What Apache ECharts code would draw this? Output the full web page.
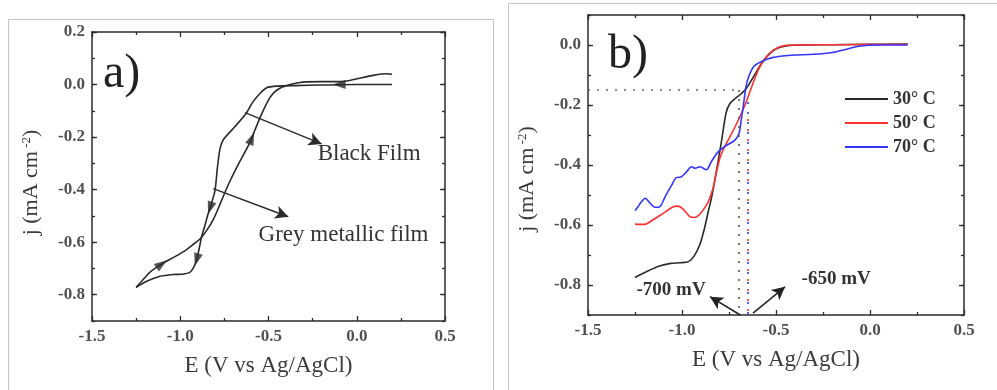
<!DOCTYPE html>
<html>
<head>
<meta charset="utf-8">
<script src="https://cdn.jsdelivr.net/npm/echarts@6/dist/echarts.min.js"></script>
<style>
  html, body { margin: 0; padding: 0; background: #fff; }
  #chart { width: 997px; height: 390px; }
</style>
</head>
<body>
<div id="chart"></div>
<script>
// ---- Panel a: cyclic voltammogram (E in V, j in mA cm^-2) ----
const cvForward = [
  [0.2, 0.0], [0.0, 0.0], [-0.2, -0.002], [-0.35, -0.004], [-0.45, -0.006],
  [-0.51, -0.012], [-0.55, -0.035], [-0.59, -0.068], [-0.624, -0.107], [-0.69, -0.16],
  [-0.756, -0.21], [-0.775, -0.245], [-0.79, -0.32], [-0.803, -0.403], [-0.822, -0.45],
  [-0.841, -0.49], [-0.862, -0.54], [-0.879, -0.58], [-0.893, -0.625], [-0.907, -0.667],
  [-0.925, -0.697], [-0.945, -0.715], [-0.99, -0.722], [-1.04, -0.723], [-1.115, -0.73],
  [-1.19, -0.749], [-1.25, -0.772]
];
const cvReverse = [
  [-1.25, -0.772], [-1.21, -0.742], [-1.171, -0.714], [-1.096, -0.679], [-1.03, -0.655],
  [-0.964, -0.628], [-0.92, -0.605], [-0.888, -0.588], [-0.85, -0.555], [-0.813, -0.514],
  [-0.785, -0.472], [-0.756, -0.425], [-0.72, -0.37], [-0.68, -0.315], [-0.64, -0.265],
  [-0.605, -0.22], [-0.575, -0.17], [-0.548, -0.126], [-0.52, -0.085], [-0.492, -0.05],
  [-0.465, -0.028], [-0.435, -0.014], [-0.40, -0.005], [-0.378, 0.0], [-0.33, 0.007],
  [-0.284, 0.01], [-0.2, 0.011], [-0.095, 0.011], [-0.03, 0.017], [0.03, 0.026],
  [0.094, 0.035], [0.14, 0.04], [0.17, 0.041], [0.2, 0.039]
];
// scan-direction markers on the loop, and their headings (degrees, counter-clockwise from up)
const sweepArrows = [[-0.10, 0.0], [-0.831, -0.47], [-0.907, -0.667], [-1.105, -0.683], [-0.595, -0.205]];
const sweepHeadings = [90, 162, 164, -55, -22];
// film labels: pointer start, pointer tip, text anchor
const filmNames = ['Black Film', 'Grey metallic film'];
const filmPointerFrom = [[-0.633, -0.107], [-0.813, -0.396]];
const filmPointerTo = [[-0.199, -0.226], [-0.388, -0.503]];
const filmTextAt = [[0.07, -0.264], [-0.075, -0.574]];

// ---- Panel b: linear sweeps at three bath temperatures ----
const tempNames = ['30\u00b0 C', '50\u00b0 C', '70\u00b0 C'];
const lsv30 = [
  [-1.25, -0.775], [-1.19, -0.756], [-1.12, -0.737], [-1.06, -0.728], [-1.01, -0.726],
  [-0.965, -0.722], [-0.935, -0.703], [-0.905, -0.665], [-0.88, -0.61], [-0.862, -0.56],
  [-0.842, -0.506], [-0.816, -0.417], [-0.789, -0.317], [-0.765, -0.225], [-0.745, -0.195],
  [-0.72, -0.18], [-0.69, -0.165], [-0.656, -0.143], [-0.62, -0.106], [-0.576, -0.061],
  [-0.532, -0.028], [-0.49, -0.01], [-0.44, -0.002], [-0.35, 0.0], [-0.2, 0.001],
  [0.0, 0.002], [0.2, 0.003]
];
const lsv50 = [
  [-1.25, -0.597], [-1.2, -0.598], [-1.16, -0.585], [-1.1, -0.561], [-1.046, -0.539],
  [-1.02, -0.537], [-0.993, -0.548], [-0.96, -0.571], [-0.935, -0.575], [-0.91, -0.567],
  [-0.885, -0.548], [-0.86, -0.522], [-0.845, -0.497], [-0.833, -0.472], [-0.815, -0.42],
  [-0.795, -0.37], [-0.77, -0.335], [-0.745, -0.306], [-0.70, -0.25], [-0.665, -0.2],
  [-0.629, -0.139], [-0.594, -0.083], [-0.558, -0.044], [-0.514, -0.017], [-0.461, -0.003],
  [-0.39, 0.0], [-0.2, 0.001], [0.2, 0.002]
];
const lsv70 = [
  [-1.25, -0.552], [-1.235, -0.54], [-1.215, -0.522], [-1.195, -0.511], [-1.17, -0.527],
  [-1.145, -0.541], [-1.12, -0.54], [-1.09, -0.506], [-1.055, -0.467], [-1.03, -0.442],
  [-1.005, -0.44], [-0.975, -0.422], [-0.95, -0.406], [-0.93, -0.411], [-0.905, -0.406],
  [-0.87, -0.416], [-0.845, -0.39], [-0.81, -0.358], [-0.765, -0.335], [-0.72, -0.318],
  [-0.697, -0.295], [-0.685, -0.25], [-0.672, -0.195], [-0.66, -0.14], [-0.645, -0.105],
  [-0.62, -0.073], [-0.58, -0.056], [-0.52, -0.042], [-0.42, -0.034], [-0.3, -0.031],
  [-0.2, -0.025], [-0.13, -0.015], [-0.06, -0.004], [0.05, 0.0], [0.2, 0.0]
];
// onset read-off: current level and the two onset potentials (V)
const onsetCurrent = -0.15;
const onsetLabels = ['-700 mV', '-650 mV'];
const onsetPotentials = [-0.70, -0.65];
const onsetTextAt = [[-1.058, -0.817], [-0.18, -0.78]];
const onsetPointerFrom = [[-0.69, -0.9], [-0.622, -0.894]];
const onsetPointerTo = [[-0.851, -0.839], [-0.452, -0.806]];

// ---- axes ----
const xMajorTicks = [-1.5, -1.0, -0.5, 0.0, 0.5];
const yMajorTicksA = [-0.8, -0.6, -0.4, -0.2, 0.0, 0.2];
const yMajorTicksB = [-0.8, -0.6, -0.4, -0.2, 0.0];

const SERIF = '"Liberation Serif", "DejaVu Serif", serif';
const AXIS = '#2b2b2b';
const LABEL = '#505050';
const TITLE = '#3a3a3a';
const fmt = v => v.toFixed(1);

function xAxesFor(grid) {
  const base = {
    type: 'value', gridIndex: grid, min: xMajorTicks[0], max: xMajorTicks[xMajorTicks.length - 1], interval: 0.5,
    splitLine: { show: false },
    axisLine: { onZero: false, lineStyle: { color: AXIS, width: 1.5 } },
    axisTick: { inside: true, length: 5, lineStyle: { color: AXIS, width: 1.3 } },
    minorTick: { show: true, splitNumber: 2, length: 3, lineStyle: { color: AXIS, width: 1.3 } }
  };
  return [
    Object.assign({}, base, {
      position: 'bottom',
      axisLabel: {
        margin: 7, formatter: fmt, fontFamily: SERIF, fontWeight: 'bold',
        fontSize: 17, color: LABEL
      },
      name: 'E (V vs Ag/AgCl)', nameLocation: 'middle', nameGap: 33,
      nameTextStyle: { fontFamily: SERIF, fontSize: 23, color: TITLE }
    }),
    Object.assign({}, base, { position: 'top', axisLabel: { show: false } })
  ];
}

function yAxesFor(grid, min, max, majors, namePad) {
  const common = { type: 'value', gridIndex: grid, min: min, max: max, splitLine: { show: false } };
  const major = Object.assign({}, common, {
    axisLine: { onZero: false, lineStyle: { color: AXIS, width: 1.5 } },
    axisTick: { inside: true, length: 5, customValues: majors, lineStyle: { color: AXIS, width: 1.3 } }
  });
  const minor = Object.assign({}, common, {
    interval: 0.1,
    axisLine: { show: false, onZero: false },
    axisLabel: { show: false },
    axisTick: { inside: true, length: 3, lineStyle: { color: AXIS, width: 1.3 } }
  });
  return [
    Object.assign({}, major, {
      position: 'left',
      axisLabel: {
        customValues: majors, margin: 7, formatter: fmt, fontFamily: SERIF,
        fontWeight: 'bold', fontSize: 17, color: LABEL
      },
      name: 'j (mA cm{sup| -2})', nameLocation: 'middle', nameGap: 49,
      nameTextStyle: {
        fontFamily: SERIF, fontSize: 22, color: TITLE, padding: [0, namePad, 0, 0],
        rich: { sup: { fontFamily: SERIF, fontSize: 13, color: TITLE, verticalAlign: 'top', padding: [0, 0, 10, 0] } }
      }
    }),
    Object.assign({}, minor, { position: 'left' }),
    Object.assign({}, major, { position: 'right', axisLabel: { show: false } }),
    Object.assign({}, minor, { position: 'right' })
  ];
}

function pointer(from, to, color) {
  return [
    { coord: from, symbol: 'none' },
    { coord: to, symbol: 'arrow', symbolSize: [10, 13], lineStyle: { color: color, width: 1.5, type: 'solid' } }
  ];
}
function textMark(text, at, size, weight) {
  return {
    coord: at, symbol: 'circle', symbolSize: 0,
    label: {
      show: true, position: 'inside', formatter: text, fontFamily: SERIF,
      fontSize: size, fontWeight: weight, color: '#333'
    }
  };
}

const INK = '#2a2a2a';

const option = {
  animation: false,
  backgroundColor: '#fff',
  grid: [
    { left: 92, top: 32, width: 353, height: 289 },
    { left: 588, top: 15, width: 376, height: 300 }
  ],
  xAxis: xAxesFor(0).concat(xAxesFor(1)),
  yAxis: yAxesFor(0, -0.9, 0.2, yMajorTicksA, 12).concat(yAxesFor(1, -0.9, 0.1, yMajorTicksB, 28)),
  legend: {
    data: tempNames, orient: 'vertical', left: 845, top: 90, padding: 0,
    itemWidth: 43, itemHeight: 14, itemGap: 6, icon: 'path://M0,6L44,6L44,8L0,8Z',
    textStyle: { fontFamily: SERIF, fontWeight: 'bold', fontSize: 18, color: '#333' },
    selectedMode: false
  },
  series: [
    {
      name: 'forward', type: 'line', xAxisIndex: 0, yAxisIndex: 0, data: cvForward,
      showSymbol: false, smooth: 0.25, lineStyle: { color: INK, width: 1.6 }, silent: true,
      markLine: {
        silent: true, symbol: ['none', 'arrow'], label: { show: false },
        lineStyle: { color: INK, width: 1.5, type: 'solid' },
        data: filmPointerFrom.map((p, i) => pointer(p, filmPointerTo[i], INK))
      },
      markPoint: {
        silent: true,
        data: filmNames.map((n, i) => textMark(n, filmTextAt[i], 23, 'normal'))
      }
    },
    {
      name: 'reverse', type: 'line', xAxisIndex: 0, yAxisIndex: 0, data: cvReverse,
      showSymbol: false, smooth: 0.25, lineStyle: { color: INK, width: 1.6 }, silent: true
    },
    {
      name: 'sweep', type: 'scatter', xAxisIndex: 0, yAxisIndex: 0, silent: true,
      symbol: 'triangle', symbolSize: [9, 13], itemStyle: { color: INK },
      data: sweepArrows.map((p, i) => ({ value: p, symbolRotate: sweepHeadings[i] }))
    },
    {
      name: tempNames[0], type: 'line', xAxisIndex: 2, yAxisIndex: 4, data: lsv30,
      showSymbol: false, smooth: 0.3, color: '#2a2a2a', lineStyle: { color: '#2a2a2a', width: 1.6 }, silent: true,
      markLine: {
        silent: true, symbol: 'none', label: { show: false },
        data: [
          [{ coord: [-1.5, onsetCurrent], lineStyle: { color: '#666', width: 1.6, type: [2, 7] } },
           { coord: [onsetPotentials[0], onsetCurrent] }],
          [{ coord: [onsetPotentials[0], onsetCurrent], lineStyle: { color: '#555', width: 1.6, type: [2, 7] } },
           { coord: [onsetPotentials[0], -0.9] }]
        ].concat(onsetPointerFrom.map((p, i) => pointer(p, onsetPointerTo[i], '#222')))
      },
      markPoint: {
        silent: true,
        data: onsetLabels.map((t, i) => textMark(t, onsetTextAt[i], 19, 'bold'))
      }
    },
    {
      name: tempNames[1], type: 'line', xAxisIndex: 2, yAxisIndex: 4, data: lsv50,
      showSymbol: false, smooth: 0.3, color: '#ff3030', lineStyle: { color: '#ff3030', width: 1.6 }, silent: true,
      markLine: {
        silent: true, symbol: 'none', label: { show: false },
        data: [[{ coord: [onsetPotentials[1], -0.23], lineStyle: { color: '#ff3030', width: 1.6, type: [2, 8], dashOffset: 5 } },
                { coord: [onsetPotentials[1], -0.9] }]]
      }
    },
    {
      name: tempNames[2], type: 'line', xAxisIndex: 2, yAxisIndex: 4, data: lsv70,
      showSymbol: false, smooth: 0.3, color: '#3535ff', lineStyle: { color: '#3535ff', width: 1.6 }, silent: true,
      markLine: {
        silent: true, symbol: 'none', label: { show: false },
        data: [[{ coord: [onsetPotentials[1], -0.19], lineStyle: { color: '#3535ff', width: 1.6, type: [2, 8] } },
                { coord: [onsetPotentials[1], -0.9] }]]
      }
    }
  ],
  graphic: [
    { type: 'rect', silent: true, shape: { x: 8.5, y: 19.5, width: 485, height: 400 },
      style: { fill: 'none', stroke: '#c4c4c4', lineWidth: 1 } },
    { type: 'rect', silent: true, shape: { x: 508.5, y: 3.5, width: 490, height: 400 },
      style: { fill: 'none', stroke: '#c4c4c4', lineWidth: 1 } },
    { type: 'text', silent: true, x: 103, y: 74,
      style: { text: 'a)', font: '48px ' + SERIF, fill: '#222', verticalAlign: 'middle' } },
    { type: 'text', silent: true, x: 608, y: 55,
      style: { text: 'b)', font: '48px ' + SERIF, fill: '#222', verticalAlign: 'middle' } }
  ]
};

const chart = echarts.init(document.getElementById('chart'), null, { renderer: 'canvas' });
chart.setOption(option);
</script>
</body>
</html>
